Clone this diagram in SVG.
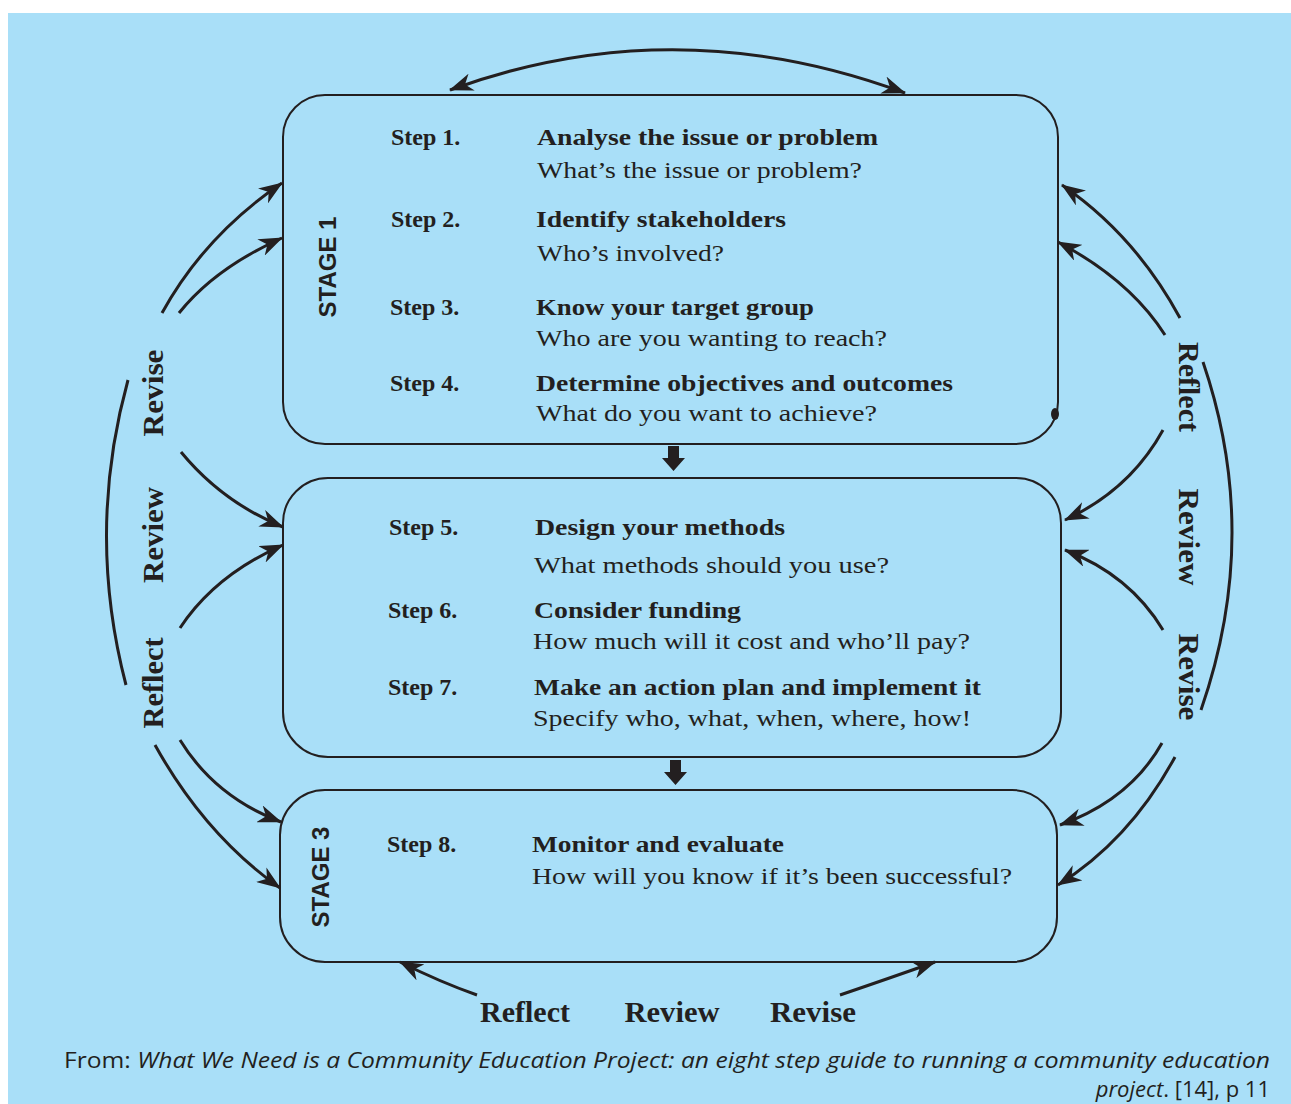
<svg xmlns="http://www.w3.org/2000/svg" width="1291" height="1104" viewBox="0 0 1291 1104">
<style>
.bg{fill:#a9dff8}
.box{fill:none;stroke:#231f20;stroke-width:2}
.con{fill:none;stroke:#231f20;stroke-width:3}
.step{font-family:"Liberation Serif",serif;font-weight:bold;font-size:24px;fill:#231f20}
.sub{font-family:"Liberation Serif",serif;font-size:24px;fill:#231f20}
.lab{font-family:"Liberation Serif",serif;font-weight:bold;font-size:29px;fill:#231f20}
.stage{font-family:"Liberation Sans",Arial,sans-serif;font-weight:bold;font-size:24px;fill:#231f20}
.cap{font-family:"Open Sans","DejaVu Sans",sans-serif;font-size:22px;fill:#231f20}
</style>
<defs>
<marker id="ah" viewBox="0 0 24 18" refX="23" refY="9" markerWidth="24" markerHeight="18" orient="auto" markerUnits="userSpaceOnUse">
<path d="M0,0 L24,9 L0,18 L7,9 z" fill="#231f20"/>
</marker>
<marker id="ahs" viewBox="0 0 24 18" refX="1" refY="9" markerWidth="24" markerHeight="18" orient="auto" markerUnits="userSpaceOnUse">
<path d="M24,0 L0,9 L24,18 L17,9 z" fill="#231f20"/>
</marker>
</defs>
<rect x="8" y="13" width="1283" height="1091" class="bg"/>

<g id="stage1">
<rect x="283" y="95" width="775" height="349" rx="42" class="box"/>
<ellipse cx="1055" cy="414" rx="4" ry="6" fill="#231f20"/>
<text class="stage" transform="translate(336,267) rotate(-90)" text-anchor="middle">STAGE 1</text>
<text class="step" x="391" y="145">Step 1.</text>
<text class="step" x="537" y="145" textLength="341" lengthAdjust="spacingAndGlyphs">Analyse the issue or problem</text>
<text class="sub" x="537" y="178" textLength="325" lengthAdjust="spacingAndGlyphs">What’s the issue or problem?</text>
<text class="step" x="391" y="227">Step 2.</text>
<text class="step" x="536" y="227" textLength="250" lengthAdjust="spacingAndGlyphs">Identify stakeholders</text>
<text class="sub" x="537" y="261" textLength="187" lengthAdjust="spacingAndGlyphs">Who’s involved?</text>
<text class="step" x="390" y="315">Step 3.</text>
<text class="step" x="536" y="315" textLength="278" lengthAdjust="spacingAndGlyphs">Know your target group</text>
<text class="sub" x="536" y="346" textLength="351" lengthAdjust="spacingAndGlyphs">Who are you wanting to reach?</text>
<text class="step" x="390" y="391">Step 4.</text>
<text class="step" x="536" y="391" textLength="417" lengthAdjust="spacingAndGlyphs">Determine objectives and outcomes</text>
<text class="sub" x="536" y="421" textLength="341" lengthAdjust="spacingAndGlyphs">What do you want to achieve?</text>
</g>

<g id="stage2">
<rect x="283" y="478" width="778" height="279" rx="45" class="box"/>
<text class="step" x="389" y="535">Step 5.</text>
<text class="step" x="535" y="535" textLength="250" lengthAdjust="spacingAndGlyphs">Design your methods</text>
<text class="sub" x="534" y="573" textLength="355" lengthAdjust="spacingAndGlyphs">What methods should you use?</text>
<text class="step" x="388" y="618">Step 6.</text>
<text class="step" x="534" y="618" textLength="207" lengthAdjust="spacingAndGlyphs">Consider funding</text>
<text class="sub" x="533" y="649" textLength="437" lengthAdjust="spacingAndGlyphs">How much will it cost and who’ll pay?</text>
<text class="step" x="388" y="695">Step 7.</text>
<text class="step" x="534" y="695" textLength="447" lengthAdjust="spacingAndGlyphs">Make an action plan and implement it</text>
<text class="sub" x="533" y="726" textLength="438" lengthAdjust="spacingAndGlyphs">Specify who, what, when, where, how!</text>
</g>

<g id="stage3">
<rect x="280" y="790" width="777" height="172" rx="45" class="box"/>
<text class="stage" transform="translate(329,877) rotate(-90)" text-anchor="middle">STAGE 3</text>
<text class="step" x="387" y="852">Step 8.</text>
<text class="step" x="532" y="852" textLength="252" lengthAdjust="spacingAndGlyphs">Monitor and evaluate</text>
<text class="sub" x="532" y="884" textLength="480" lengthAdjust="spacingAndGlyphs">How will you know if it’s been successful?</text>
</g>

<g id="labels">
<text class="lab" transform="translate(163,393) rotate(-90)" text-anchor="middle" textLength="87" lengthAdjust="spacingAndGlyphs">Revise</text>
<text class="lab" transform="translate(163,535) rotate(-90)" text-anchor="middle" textLength="96" lengthAdjust="spacingAndGlyphs">Review</text>
<text class="lab" transform="translate(163,683) rotate(-90)" text-anchor="middle" textLength="91" lengthAdjust="spacingAndGlyphs">Reflect</text>
<text class="lab" transform="translate(1179,387) rotate(90)" text-anchor="middle" textLength="90" lengthAdjust="spacingAndGlyphs">Reflect</text>
<text class="lab" transform="translate(1179,537) rotate(90)" text-anchor="middle" textLength="97" lengthAdjust="spacingAndGlyphs">Review</text>
<text class="lab" transform="translate(1179,677) rotate(90)" text-anchor="middle" textLength="87" lengthAdjust="spacingAndGlyphs">Revise</text>
<text class="lab" x="525" y="1022" text-anchor="middle" textLength="90" lengthAdjust="spacingAndGlyphs">Reflect</text>
<text class="lab" x="672" y="1022" text-anchor="middle" textLength="95" lengthAdjust="spacingAndGlyphs">Review</text>
<text class="lab" x="813" y="1022" text-anchor="middle" textLength="86" lengthAdjust="spacingAndGlyphs">Revise</text>
</g>

<g id="connectors">
<path class="con" d="M450,90 Q675,8 905,93" marker-start="url(#ahs)" marker-end="url(#ah)"/>
<path d="M668,446 h11 v12 h6 l-11.5,13 l-11.5,-13 h6 z" fill="#231f20"/>
<path d="M670,760 h11 v12 h6 l-11.5,13 l-11.5,-13 h6 z" fill="#231f20"/>
<path class="con" d="M162,313 Q205,235 282,183" marker-end="url(#ah)"/>
<path class="con" d="M179,313 Q215,268 282,238" marker-end="url(#ah)"/>
<path class="con" d="M128,380 Q86,532 126,685"/>
<path class="con" d="M181,452 Q222,502 283,527" marker-end="url(#ah)"/>
<path class="con" d="M180,628 Q215,575 283,545" marker-end="url(#ah)"/>
<path class="con" d="M180,740 Q215,797 281,822" marker-end="url(#ah)"/>
<path class="con" d="M155,745 Q205,835 280,888" marker-end="url(#ah)"/>
<path class="con" d="M1180,318 Q1135,235 1062,185" marker-end="url(#ah)"/>
<path class="con" d="M1165,335 Q1130,280 1058,242" marker-end="url(#ah)"/>
<path class="con" d="M1203,362 Q1262,535 1201,710"/>
<path class="con" d="M1163,430 Q1130,490 1065,520" marker-end="url(#ah)"/>
<path class="con" d="M1163,630 Q1130,575 1065,550" marker-end="url(#ah)"/>
<path class="con" d="M1162,743 Q1130,800 1060,825" marker-end="url(#ah)"/>
<path class="con" d="M1175,757 Q1130,840 1058,885" marker-end="url(#ah)"/>
<path class="con" d="M477,995 Q440,982 400,962" marker-end="url(#ah)"/>
<path class="con" d="M840,995 Q890,978 935,962" marker-end="url(#ah)"/>
</g>

<g id="caption">
<text class="cap" x="64" y="1068" textLength="1206" lengthAdjust="spacingAndGlyphs">From: <tspan font-style="italic">What We Need is a Community Education Project: an eight step guide to running a community education</tspan></text>
<text class="cap" x="1270" y="1097" text-anchor="end"><tspan font-style="italic">project</tspan>. [14], p 11</text>
</g>
</svg>
